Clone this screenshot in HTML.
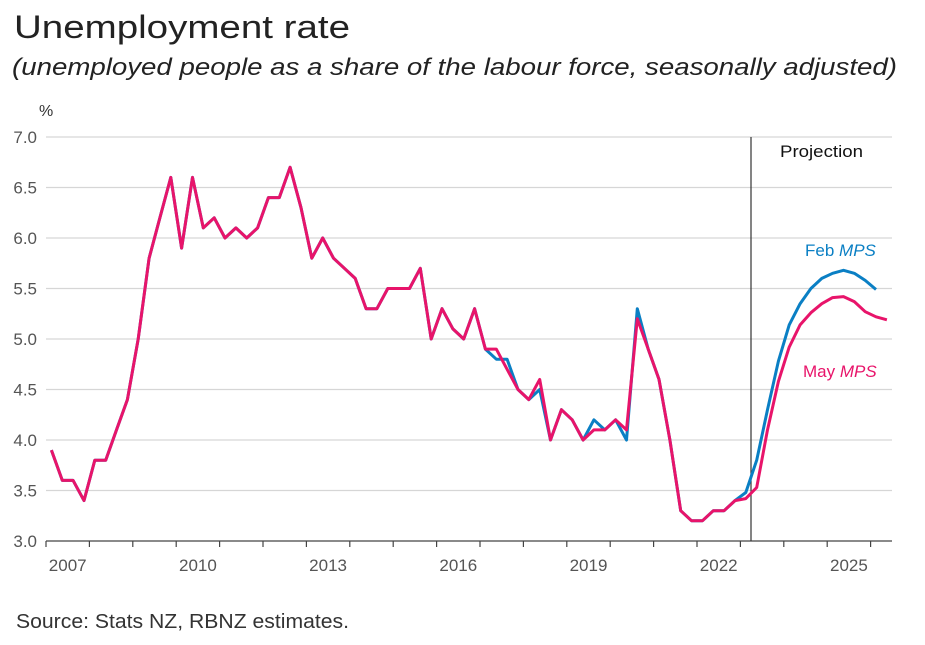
<!DOCTYPE html>
<html><head><meta charset="utf-8"><style>
html,body{margin:0;padding:0;background:#fff;}
svg{display:block;font-family:"Liberation Sans",sans-serif;}
</style></head><body>
<svg id="chart" width="925" height="645" viewBox="0 0 925 645">
<text x="14" y="38" font-size="32" fill="#222" textLength="336" lengthAdjust="spacingAndGlyphs">Unemployment rate</text>
<text x="12" y="75" font-size="24" font-style="italic" fill="#222" textLength="885" lengthAdjust="spacingAndGlyphs">(unemployed people as a share of the labour force, seasonally adjusted)</text>
<text x="39" y="116" font-size="16" fill="#333">%</text>
<g id="grid"></g>
<g id="yticks"></g>
<g id="xaxis"></g>
<line x1="751" y1="137" x2="751" y2="541" stroke="#333" stroke-width="1.2"/>
<text x="780" y="157" font-size="17" fill="#111" textLength="83" lengthAdjust="spacingAndGlyphs">Projection</text>
<g id="series"></g>
<text x="805" y="256" font-size="17" fill="#0a7fc4">Feb <tspan font-style="italic">MPS</tspan></text>
<text x="803" y="377" font-size="17" fill="#e8146a">May <tspan font-style="italic">MPS</tspan></text>
<text x="16" y="628" font-size="20" fill="#333" textLength="333" lengthAdjust="spacingAndGlyphs">Source: Stats NZ, RBNZ estimates.</text>
</svg>
<script>
const yTicks = [3.0,3.5,4.0,4.5,5.0,5.5,6.0,6.5,7.0];
const xLabels = ["2007","2010","2013","2016","2019","2022","2025"];
const startYear = 2007;
const febMPS = [3.9,3.6,3.6,3.4, 3.8,3.8,4.1,4.4, 5.0,5.8,6.2,6.6, 5.9,6.6,6.1,6.2, 6.0,6.1,6.0,6.1, 6.4,6.4,6.7,6.3, 5.8,6.0,5.8,5.7, 5.6,5.3,5.3,5.5, 5.5,5.5,5.7,5.0, 5.3,5.1,5.0,5.3, 4.9,4.8,4.8,4.5, 4.4,4.5,4.0,4.3, 4.2,4.0,4.2,4.1, 4.2,4.0,5.3,4.9, 4.6,4.0,3.3,3.2, 3.2,3.3,3.3,3.4, 3.48,3.8,4.3,4.78,5.14,5.35,5.5,5.6,5.65,5.68,5.65,5.58,5.49];
const mayMPS = [3.9,3.6,3.6,3.4, 3.8,3.8,4.1,4.4, 5.0,5.8,6.2,6.6, 5.9,6.6,6.1,6.2, 6.0,6.1,6.0,6.1, 6.4,6.4,6.7,6.3, 5.8,6.0,5.8,5.7, 5.6,5.3,5.3,5.5, 5.5,5.5,5.7,5.0, 5.3,5.1,5.0,5.3, 4.9,4.9,4.7,4.5, 4.4,4.6,4.0,4.3, 4.2,4.0,4.1,4.1, 4.2,4.1,5.2,4.9, 4.6,4.0,3.3,3.2, 3.2,3.3,3.3,3.4, 3.42,3.53,4.1,4.58,4.92,5.14,5.26,5.35,5.41,5.42,5.37,5.27,5.22,5.19];

const NS = "http://www.w3.org/2000/svg";
const X0 = 46, YEARW = 43.4, Y0 = 541, UNIT = 101;
function xq(i){ return X0 + (i + 0.5) * YEARW / 4; }
function xy(year){ return X0 + (year - startYear) * YEARW; }
function yv(v){ return Y0 - (v - 3) * UNIT; }
function mk(tag, attrs, parent){ const e=document.createElementNS(NS,tag); for(const k in attrs) e.setAttribute(k,attrs[k]); parent.appendChild(e); return e; }

const grid=document.getElementById('grid'), yt=document.getElementById('yticks'), xa=document.getElementById('xaxis'), sg=document.getElementById('series');
yTicks.forEach(v=>{
  if(v>3){ const l=mk('line',{x1:X0,x2:892,y1:yv(v),y2:yv(v),stroke:'#d6d6d6','stroke-width':1.3},grid);
    
     }
  const t=mk('text',{x:37,y:yv(v)+6,'font-size':17,fill:'#555','text-anchor':'end'},yt);
  t.textContent=v.toFixed(1);
  
  
});
const ax=mk('line',{x1:X0,x2:892,y1:Y0,y2:Y0,stroke:'#444','stroke-width':1.3},xa);


for(let y=startYear;y<=2026;y++){
  const tk=mk('line',{x1:xy(y),x2:xy(y),y1:Y0,y2:Y0+6,stroke:'#444','stroke-width':1.2},xa);
  
  
}
xLabels.forEach(s=>{
  const yr=+s;
  const t=mk('text',{x:xy(yr)+YEARW/2,y:Y0+30,'font-size':17,fill:'#555','text-anchor':'middle'},xa);
  t.textContent=s;
  
  
});
function line(data,color,name){
  const d=data.map((v,i)=>(i?'L':'M')+xq(i).toFixed(1)+','+yv(v).toFixed(1)).join(' ');
  const p=mk('path',{d:d,fill:'none',stroke:color,'stroke-width':3,'stroke-linejoin':'round'},sg);
  
  
}
line(febMPS,'#0a7fc4','feb-mps-line');
line(mayMPS,'#e8146a','may-mps-line');
</script>
</body></html>
